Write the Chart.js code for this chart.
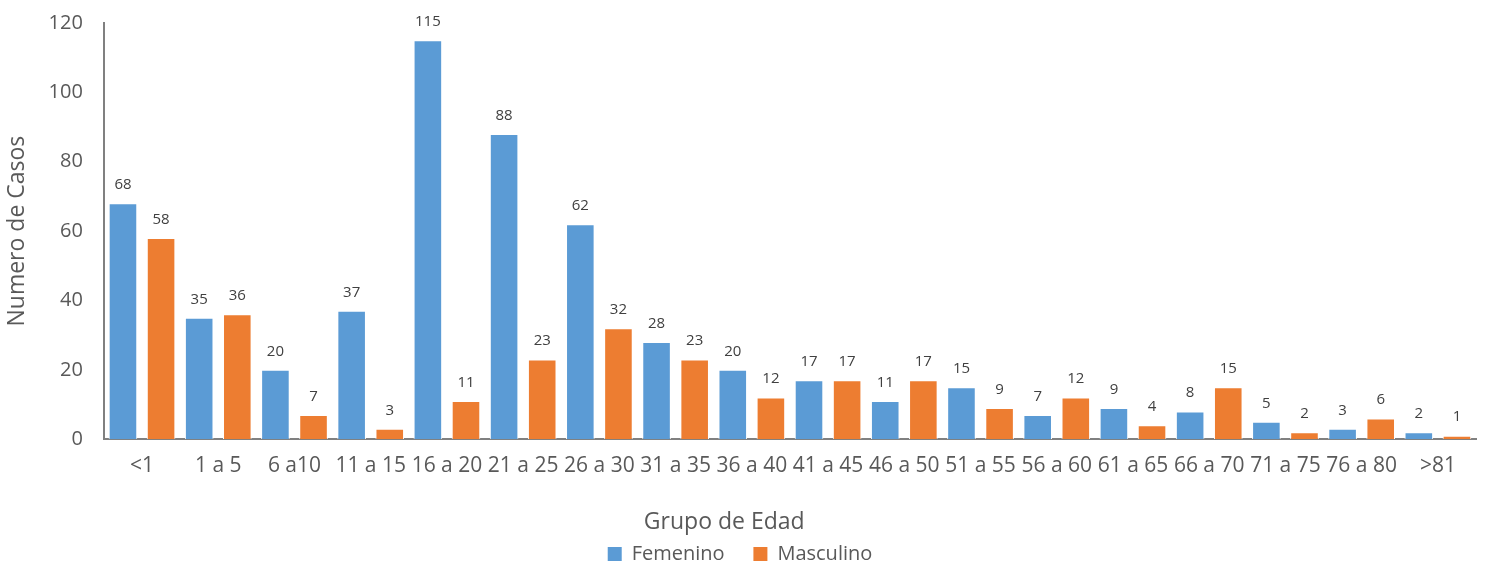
<!DOCTYPE html>
<html>
<head>
<meta charset="utf-8">
<script src="https://cdn.jsdelivr.net/npm/chart.js@4.4.0/dist/chart.umd.min.js"></script>
<style>
  html, body { margin: 0; padding: 0; background: #fff; }
  #wrap { width: 1486px; height: 562px; position: relative; }
</style>
</head>
<body>
<div id="wrap"><canvas id="casosChart"></canvas></div>
<script>
// datos
const grupos = ['<1', '1 a 5', '6 a10', '11 a 15', '16 a 20', '21 a 25', '26 a 30', '31 a 35', '36 a 40',
    '41 a 45', '46 a 50', '51 a 55', '56 a 60', '61 a 65', '66 a 70', '71 a 75', '76 a 80', '>81'];
const femenino = [68, 35, 20, 37, 115, 88, 62, 28, 20, 17, 11, 15, 7, 9, 8, 5, 3, 2];
const masculino = [58, 36, 7, 3, 11, 23, 32, 23, 12, 17, 17, 9, 12, 4, 15, 2, 6, 1];
const yTicks = [0, 20, 40, 60, 80, 100, 120];

const FONT = "'Open Sans', 'Noto Sans', sans-serif";
const GRIS = '#595959';

// etiquetas de valor encima de cada barra
const etiquetas = {
    id: 'etiquetas',
    afterDatasetsDraw(chart) {
        const ctx = chart.ctx;
        ctx.save();
        ctx.font = '15px ' + FONT;
        ctx.fillStyle = '#404040';
        ctx.textAlign = 'center';
        ctx.textBaseline = 'bottom';
        chart.data.datasets.forEach((ds, i) => {
            const meta = chart.getDatasetMeta(i);
            meta.data.forEach((bar, j) => {
                ctx.fillText(ds.data[j], bar.x, bar.y - 11);
            });
        });
        ctx.restore();
    }
};

document.addEventListener('DOMContentLoaded', () => {
    const ctx = document.getElementById('casosChart').getContext('2d');
    new Chart(ctx, {
        type: 'bar',
        data: {
            labels: grupos,
            datasets: [
                {
                    label: 'Femenino',
                    data: femenino,
                    backgroundColor: '#5B9BD5',
                    borderColor: '#ffffff',
                    borderWidth: 1,
                    categoryPercentage: 1.0,
                    barPercentage: 0.75
                },
                {
                    label: 'Masculino',
                    data: masculino,
                    backgroundColor: '#ED7D31',
                    borderColor: '#ffffff',
                    borderWidth: 1,
                    categoryPercentage: 1.0,
                    barPercentage: 0.75
                }
            ]
        },
        options: {
            responsive: true,
            maintainAspectRatio: false,
            animation: false,
            layout: {
                padding: { left: 4, right: 10, top: 2, bottom: -12 }
            },
            scales: {
                x: {
                    grid: { display: false, drawTicks: false },
                    border: { display: true, color: '#808080', width: 2 },
                    ticks: {
                        color: GRIS,
                        font: { family: FONT, size: 21 },
                        maxRotation: 0,
                        autoSkip: false,
                        padding: 14
                    },
                    title: {
                        display: true,
                        // espacios finales: corre el titulo a la izquierda como en el original
                        text: 'Grupo de Edad' + ' '.repeat(22),
                        color: GRIS,
                        font: { family: FONT, size: 23 },
                        padding: { top: 16, bottom: 0 }
                    }
                },
                y: {
                    min: 0,
                    max: 120,
                    afterBuildTicks: (axis) => {
                        axis.ticks = yTicks.map(v => ({ value: v }));
                    },
                    // el padding de los ticks no debe empujar el area hacia abajo
                    afterFit: (axis) => {
                        axis.paddingTop = 23;
                    },
                    grid: { display: false, drawTicks: false },
                    border: { display: true, color: '#808080', width: 2 },
                    ticks: {
                        color: GRIS,
                        font: { family: FONT, size: 20 },
                        padding: 21
                    },
                    title: {
                        display: true,
                        text: 'Numero de Casos',
                        color: GRIS,
                        font: { family: FONT, size: 23 },
                        padding: { top: 0, bottom: -4 }
                    }
                }
            },
            plugins: {
                legend: {
                    position: 'bottom',
                    labels: {
                        color: GRIS,
                        font: { family: FONT, size: 20 },
                        boxWidth: 14,
                        boxHeight: 14,
                        padding: 8,
                        generateLabels: (chart) => {
                            const items = Chart.defaults.plugins.legend.labels.generateLabels(chart);
                            items[0].text = items[0].text + '    ';
                            items.forEach(it => { it.lineWidth = 0; });
                            return items;
                        }
                    }
                },
                tooltip: { enabled: false }
            }
        },
        plugins: [etiquetas]
    });
});
</script>
</body>
</html>
